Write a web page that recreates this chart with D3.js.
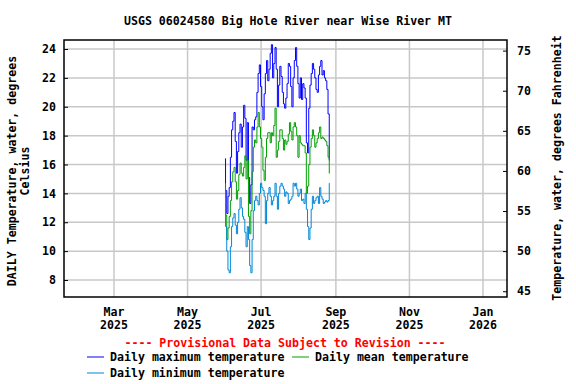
<!DOCTYPE html>
<html>
<head>
<meta charset="utf-8">
<script src="https://cdn.jsdelivr.net/npm/d3@7"></script>
<style>
body{margin:0;background:#fff;}
text{font-family:"DejaVu Sans Mono",monospace;font-size:11.6px;font-weight:bold;}
</style>
</head>
<body>
<svg id="chart"></svg>
<script>
// daily values, Jun 1 2025 onward, degrees C
var startDate = new Date(Date.UTC(2025,5,1));

var dailyMax = [16.4,14.2,12.6,13.8,14.4,16.5,18.4,19.0,19.6,17.6,15.4,16.9,18.2,18.8,17.2,18.6,20.1,19.2,16.3,18.9,
15.1,13.3,14.6,18.6,18.4,19.1,19.3,21.0,22.3,22.9,21.4,20.0,19.1,20.9,22.3,23.2,21.8,22.6,23.7,24.3,
22.0,23.0,24.1,22.6,20.0,21.5,22.8,22.1,21.0,20.2,19.9,20.6,21.6,23.0,22.8,21.4,20.0,22.0,23.2,24.1,
22.8,21.6,20.6,22.0,20.5,21.6,21.3,20.6,17.5,16.8,19.9,21.5,22.3,23.0,22.6,22.0,21.2,21.0,22.2,22.8,
23.2,22.2,22.5,22.0,21.8,21.2,19.5,16.3];

var dailyMean = [14.7,12.5,10.8,11.6,12.4,13.5,14.8,15.5,15.8,14.8,13.6,14.2,15.3,16.1,15.4,15.2,15.8,16.6,15.0,16.3,
12.4,11.2,12.8,15.5,17.2,17.7,17.5,18.6,19.6,18.6,17.8,17.2,15.6,14.9,16.5,17.8,18.2,18.2,17.5,18.2,
18.0,18.7,19.9,16.5,17.0,17.6,18.4,18.4,17.8,17.0,17.7,17.4,17.6,18.1,18.9,18.3,17.7,18.6,18.9,18.6,
18.0,16.5,18.0,17.5,17.4,17.3,17.3,16.8,14.0,14.5,16.0,17.2,17.8,18.4,18.0,17.2,17.5,17.8,18.2,18.6,
17.8,17.9,17.8,17.7,17.6,17.3,16.5,15.4];

var dailyMin = [13.7,11.7,10.0,8.7,8.5,10.3,11.7,12.3,12.6,11.8,11.2,12.0,12.9,13.7,13.0,12.4,12.2,11.3,10.3,11.7,
10.8,9.0,8.5,10.8,12.8,13.5,13.8,13.5,13.2,14.0,14.7,14.4,14.2,13.8,11.9,13.5,14.0,14.4,13.8,13.2,
13.5,13.8,14.7,13.8,12.9,14.0,14.5,14.7,14.5,14.3,13.8,14.1,14.0,13.3,13.5,13.6,13.8,14.7,14.5,14.7,
14.3,13.8,14.0,14.3,13.5,13.6,13.3,14.0,12.9,11.7,10.8,11.6,12.9,13.8,13.3,13.5,13.7,13.8,13.3,14.4,
13.8,13.6,13.3,13.4,13.5,13.4,13.5,14.7];

var celsiusTicks = [8,10,12,14,16,18,20,22,24];
var fahrTicks = [45,50,55,60,65,70,75];
var monthTicks = [new Date(Date.UTC(2025,2,1)),new Date(Date.UTC(2025,4,1)),new Date(Date.UTC(2025,6,1)),
                  new Date(Date.UTC(2025,8,1)),new Date(Date.UTC(2025,10,1)),new Date(Date.UTC(2026,0,1))];

var seriesNames = ["Daily maximum temperature","Daily mean temperature","Daily minimum temperature"];
var seriesColors = ["#0000ff","#00a000","#0088d8"];

var screen = {width:576, height:384};
var box = {left:64, right:507, top:40, bottom:297};

var svg = d3.select("#chart")
    .attr("width",screen.width)
    .attr("height",screen.height);

var xScale = d3.scaleUtc()
    .domain([monthTicks[0],monthTicks[5]])
    .range([114,483]);

var yScale = d3.scaleLinear()
    .domain([8,24])
    .range([280,49]);

var fScale = d3.scaleLinear()
    .domain([8*1.8+32,24*1.8+32])
    .range([280,49]);

// gridlines
var grid = svg.append("g");
grid.selectAll(".hg")
    .data(celsiusTicks)
    .enter().append("line")
    .attr("x1",box.left).attr("x2",box.right)
    .attr("y1",function(d){return yScale(d)})
    .attr("y2",function(d){return yScale(d)})
    .style("stroke","#c8c8c8").style("stroke-width",1.5);
grid.selectAll(".vg")
    .data(monthTicks)
    .enter().append("line")
    .attr("y1",box.top).attr("y2",box.bottom)
    .attr("x1",function(d){return xScale(d)})
    .attr("x2",function(d){return xScale(d)})
    .style("stroke","#c8c8c8").style("stroke-width",1.5);

// lines
var makeData = function(vals){
    return vals.map(function(v,i){return {date:d3.utcDay.offset(startDate,i), value:v}});
};
var line = d3.line()
    .x(function(d){return xScale(d.date)})
    .y(function(d){return yScale(d.value)})
    .curve(d3.curveStep);

[dailyMax,dailyMean,dailyMin].forEach(function(vals,i){
    svg.append("path")
        .datum(makeData(vals))
        .attr("d",line)
        .style("fill","none")
        .style("stroke",seriesColors[i])
        .style("stroke-width",1);
});

// frame
svg.append("rect")
    .attr("x",box.left).attr("y",box.top)
    .attr("width",box.right-box.left).attr("height",box.bottom-box.top)
    .style("fill","none").style("stroke","#000").style("stroke-width",1.5);

// left axis
var yAxis = d3.axisLeft(yScale).tickValues(celsiusTicks).tickSize(-4).tickPadding(8);
var gy = svg.append("g").attr("transform","translate("+box.left+",0)").call(yAxis);
gy.select(".domain").remove();

// right axis
var fAxis = d3.axisRight(fScale).tickValues(fahrTicks).tickSize(-4).tickPadding(10);
var gf = svg.append("g").attr("transform","translate("+box.right+",0)").call(fAxis);
gf.select(".domain").remove();

svg.selectAll(".tick text")
    .style("font-family","DejaVu Sans Mono").style("font-size","11.6px").style("font-weight","bold");

// x labels
var xl = svg.append("g");
xl.selectAll(".m")
    .data(monthTicks)
    .enter().append("text")
    .attr("text-anchor","middle")
    .attr("x",function(d){return xScale(d)})
    .attr("y",316)
    .text(function(d){return d3.utcFormat("%b")(d)});
xl.selectAll(".yr")
    .data(monthTicks)
    .enter().append("text")
    .attr("text-anchor","middle")
    .attr("x",function(d){return xScale(d)})
    .attr("y",329)
    .text(function(d){return d3.utcFormat("%Y")(d)});

// title
svg.append("text")
    .attr("x",288).attr("y",25)
    .attr("text-anchor","middle")
    .text("USGS 06024580 Big Hole River near Wise River MT");

// axis titles
svg.append("text")
    .attr("transform","translate(16,171) rotate(-90)")
    .attr("text-anchor","middle")
    .text("DAILY Temperature, water, degrees");
svg.append("text")
    .attr("transform","translate(29,171) rotate(-90)")
    .attr("text-anchor","middle")
    .text("Celsius");
svg.append("text")
    .attr("transform","translate(561,168) rotate(-90)")
    .attr("text-anchor","middle")
    .text("Temperature, water, degrees Fahrenheit");

// provisional note
svg.append("text")
    .attr("x",285).attr("y",347)
    .attr("text-anchor","middle")
    .style("fill","#ff0000")
    .text("---- Provisional Data Subject to Revision ----");

// legend
var legendPos = [{x:87,y:357},{x:292,y:357},{x:87,y:373}];
legendPos.forEach(function(p,i){
    svg.append("line")
        .attr("x1",p.x).attr("x2",p.x+17)
        .attr("y1",p.y).attr("y2",p.y)
        .style("stroke",seriesColors[i]).style("stroke-width",1);
    svg.append("text")
        .attr("x",p.x+23).attr("y",p.y+4)
        .text(seriesNames[i]);
});
</script>
</body>
</html>
